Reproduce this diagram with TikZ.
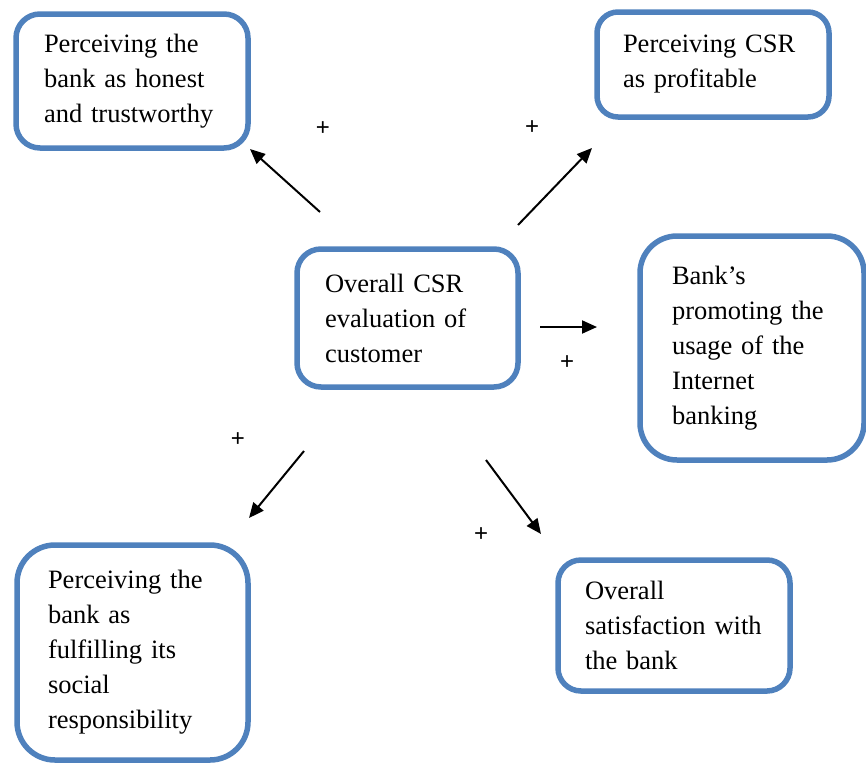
\documentclass[tikz,border=0pt]{standalone}
\usepackage{fontspec}
\setmainfont{Liberation Serif}
\newfontfamily\plusfont{Liberation Sans}
\usetikzlibrary{arrows.meta}
\definecolor{boxblue}{HTML}{4F81BD}
\begin{document}
\begin{tikzpicture}[x=1pt,y=-1pt,
  box/.style={draw=boxblue, line width=5.5pt, fill=white, align=left, inner ysep=0pt,
    font=\fontsize{26.5}{35}\selectfont},
  conn/.style={line width=2pt, -{Triangle[length=15pt,width=13pt]}},
  plus/.style={font=\plusfont\fontsize{24}{24}\selectfont, inner sep=0pt}]
\useasboundingbox (0,0) rectangle (866,763);
\node[box, rounded corners=24pt, minimum width=232pt, minimum height=134pt, inner xsep=28pt, text width=176pt]
  (b1) at (132,81) {Perceiving the\\bank as honest\\and trustworthy};
\node[box, rounded corners=21pt, minimum width=232pt, minimum height=105pt, inner xsep=26pt, text width=180pt]
  (b2) at (713,64.5) {Perceiving CSR\\as profitable};
\node[box, rounded corners=24pt, minimum width=221pt, minimum height=138pt, inner xsep=28pt, text width=165pt]
  (c) at (407.5,318) {Overall CSR\\evaluation of\\customer};
\node[box, rounded corners=37pt, minimum width=224pt, minimum height=224pt, inner xsep=32pt, text width=160pt]
  (b4) at (752,348) {Bank’s\\promoting the\\usage of the\\Internet\\banking};
\node[box, rounded corners=38pt, minimum width=231pt, minimum height=215pt, inner xsep=31pt, text width=169pt]
  (b5) at (132.5,652.5) {Perceiving the\\bank as\\fulfilling its\\social\\responsibility};
\node[box, rounded corners=23pt, minimum width=232pt, minimum height=131pt, inner xsep=27pt, text width=178pt]
  (b6) at (674,625.5) {Overall\\satisfaction with\\the bank};
\coordinate (a1s) at (320,212); \coordinate (a1e) at (250,149);
\coordinate (a2s) at (518,225); \coordinate (a2e) at (592,148);
\coordinate (a3s) at (540,327); \coordinate (a3e) at (597,327);
\coordinate (a4s) at (304,451); \coordinate (a4e) at (249,518);
\coordinate (a5s) at (486,460); \coordinate (a5e) at (541,534);
\draw[conn] (a1s) -- (a1e);
\draw[conn] (a2s) -- (a2e);
\draw[conn] (a3s) -- (a3e);
\draw[conn] (a4s) -- (a4e);
\draw[conn] (a5s) -- (a5e);
\node[plus] (p1) at (323,129) {+};
\node[plus] (p2) at (532,128) {+};
\node[plus] (p3) at (567,363) {+};
\node[plus] (p4) at (238,440) {+};
\node[plus] (p5) at (481,535) {+};
\end{tikzpicture}
\end{document}
